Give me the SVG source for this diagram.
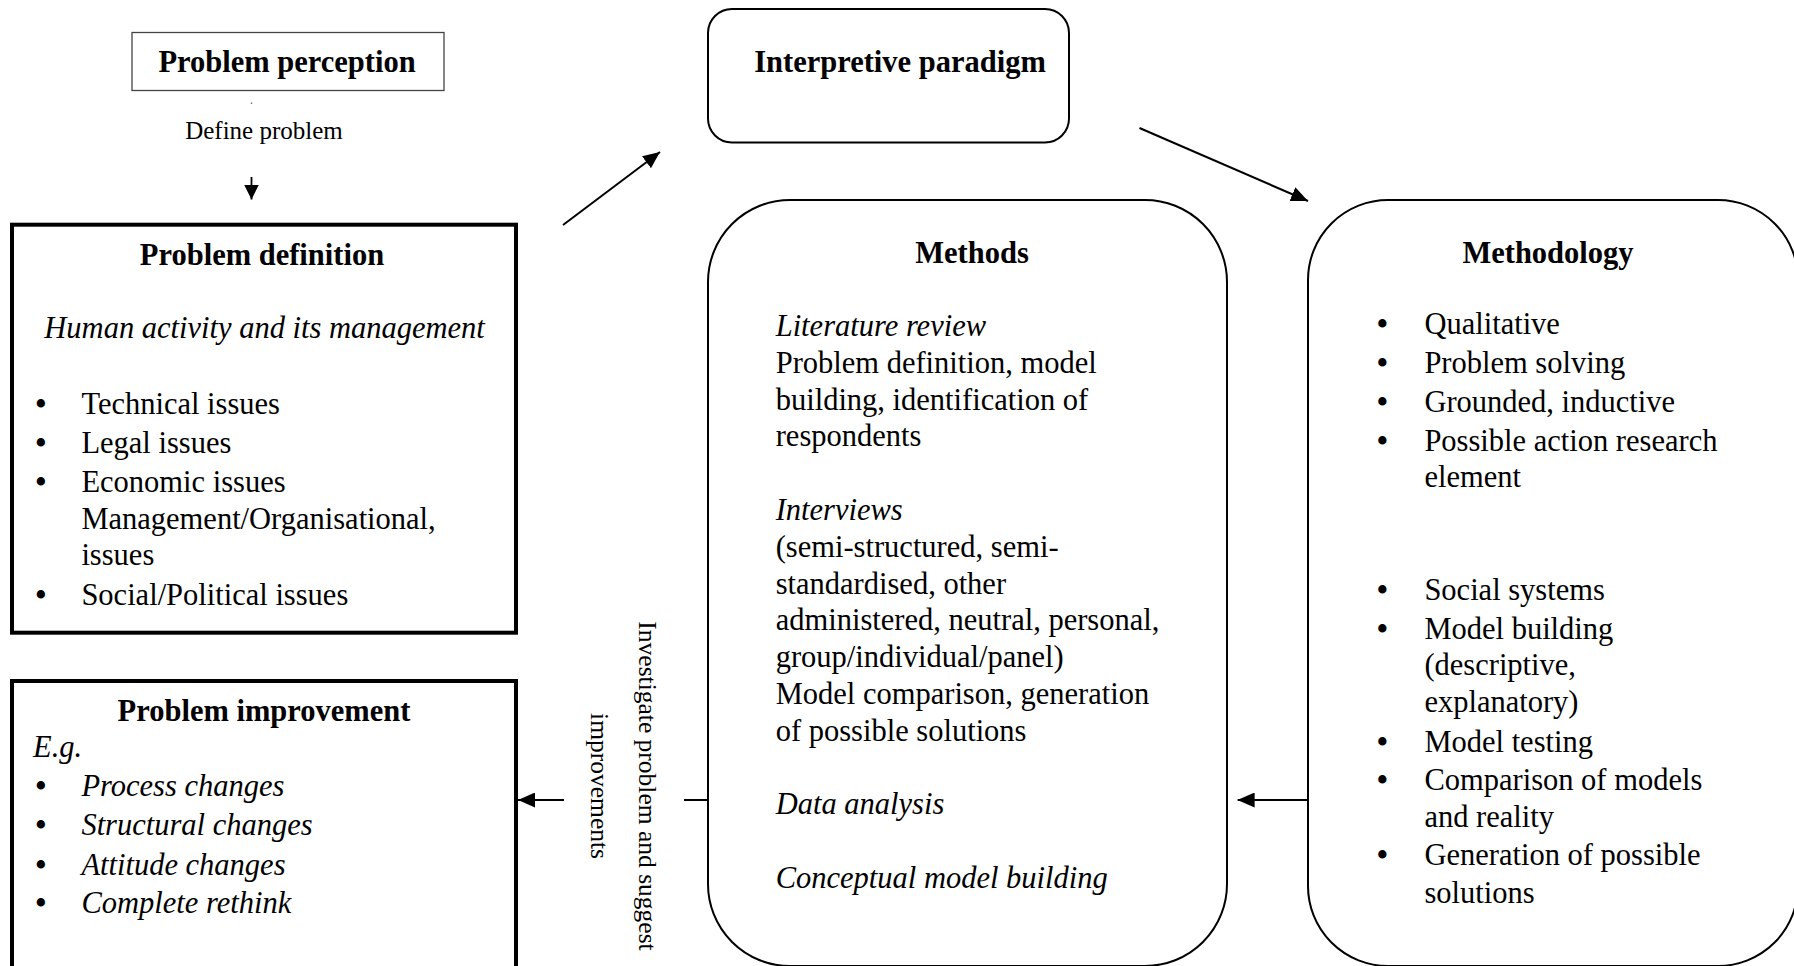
<svg xmlns="http://www.w3.org/2000/svg" width="1794" height="966" viewBox="0 0 1794 966">
<style>
text{font-family:"Liberation Serif","Times New Roman",serif;fill:#000}
.t{font-size:30.5px;font-weight:bold;text-anchor:middle}
.b{font-size:30.5px}
.i{font-size:30.5px;font-style:italic}
.bu{font-style:normal;font-weight:bold}
.thick{fill:#fff;stroke:#000;stroke-width:4}
.round{fill:#fff;stroke:#000;stroke-width:2}
.conn{stroke:#000;stroke-width:2;fill:none}
</style>
<defs>
<marker id="ah" markerUnits="userSpaceOnUse" markerWidth="17" markerHeight="15" refX="17" refY="7.5" orient="auto">
<path d="M0,0 L17,7.5 L0,15 Z" fill="#000"/>
</marker>
<marker id="ahs" markerUnits="userSpaceOnUse" markerWidth="15" markerHeight="15" refX="15" refY="7.5" orient="auto">
<path d="M0,0 L15,7.5 L0,15 Z" fill="#000"/>
</marker>
</defs>
<rect width="1794" height="966" fill="#fff"/>

<g id="problem-perception">
<rect x="132" y="32.5" width="312" height="58" fill="#fff" stroke="#444" stroke-width="1.3"/>
<text class="t" x="287" y="71.5">Problem perception</text>
</g>

<g id="interpretive-paradigm">
<rect x="708" y="9" width="361" height="133.5" rx="24" class="round"/>
<text class="t" x="900" y="71.5">Interpretive paradigm</text>
</g>

<g id="problem-definition">
<rect x="12" y="224.7" width="504" height="408" class="thick"/>
<text class="t" x="262" y="265">Problem definition</text>
<text class="i" x="264.6" y="338" text-anchor="middle">Human activity and its management</text>
<text class="b" y="414"><tspan class="bu" x="35.5">•</tspan><tspan x="81.4">Technical issues</tspan></text>
<text class="b" y="453"><tspan class="bu" x="35.5">•</tspan><tspan x="81.4">Legal issues</tspan></text>
<text class="b" y="492"><tspan class="bu" x="35.5">•</tspan><tspan x="81.4">Economic issues</tspan></text>
<text class="b" x="81.4" y="529">Management/Organisational,</text>
<text class="b" x="81.4" y="565">issues</text>
<text class="b" y="605"><tspan class="bu" x="35.5">•</tspan><tspan x="81.4">Social/Political issues</tspan></text>
</g>

<g id="problem-improvement">
<rect x="12" y="681" width="504" height="320" class="thick"/>
<text class="t" x="264" y="721">Problem improvement</text>
<text class="i" x="33" y="757">E.g.</text>
<text class="i" y="796"><tspan class="bu" x="35.5">•</tspan><tspan x="81.4">Process changes</tspan></text>
<text class="i" y="835"><tspan class="bu" x="35.5">•</tspan><tspan x="81.4">Structural changes</tspan></text>
<text class="i" y="874.5"><tspan class="bu" x="35.5">•</tspan><tspan x="81.4">Attitude changes</tspan></text>
<text class="i" y="913"><tspan class="bu" x="35.5">•</tspan><tspan x="81.4">Complete rethink</tspan></text>
</g>

<g id="methods">
<rect x="708" y="200" width="519" height="766" rx="82" class="round"/>
<text class="t" x="972" y="263">Methods</text>
<text class="i" x="775.7" y="336">Literature review</text>
<text class="b" x="775.7" y="373">Problem definition, model</text>
<text class="b" x="775.7" y="409.6">building, identification of</text>
<text class="b" x="775.7" y="446">respondents</text>
<text class="i" x="775.7" y="520">Interviews</text>
<text class="b" x="775.7" y="557">(semi-structured, semi-</text>
<text class="b" x="775.7" y="593.6">standardised, other</text>
<text class="b" x="775.7" y="630.4">administered, neutral, personal,</text>
<text class="b" x="775.7" y="667">group/individual/panel)</text>
<text class="b" x="775.7" y="704">Model comparison, generation</text>
<text class="b" x="775.7" y="740.8">of possible solutions</text>
<text class="i" x="775.7" y="814.4">Data analysis</text>
<text class="i" x="775.7" y="888">Conceptual model building</text>
</g>

<g id="methodology">
<rect x="1308" y="200" width="490" height="766" rx="80" class="round"/>
<text class="t" x="1548" y="263">Methodology</text>
<text class="b" y="334"><tspan class="bu" x="1377">•</tspan><tspan x="1424.4">Qualitative</tspan></text>
<text class="b" y="372.7"><tspan class="bu" x="1377">•</tspan><tspan x="1424.4">Problem solving</tspan></text>
<text class="b" y="411.7"><tspan class="bu" x="1377">•</tspan><tspan x="1424.4">Grounded, inductive</tspan></text>
<text class="b" y="450.7"><tspan class="bu" x="1377">•</tspan><tspan x="1424.4">Possible action research</tspan></text>
<text class="b" x="1424.4" y="486.7">element</text>
<text class="b" y="600"><tspan class="bu" x="1377">•</tspan><tspan x="1424.4">Social systems</tspan></text>
<text class="b" y="639"><tspan class="bu" x="1377">•</tspan><tspan x="1424.4">Model building</tspan></text>
<text class="b" x="1424.4" y="675">(descriptive,</text>
<text class="b" x="1424.4" y="711.7">explanatory)</text>
<text class="b" y="751.7"><tspan class="bu" x="1377">•</tspan><tspan x="1424.4">Model testing</tspan></text>
<text class="b" y="790"><tspan class="bu" x="1377">•</tspan><tspan x="1424.4">Comparison of models</tspan></text>
<text class="b" x="1424.4" y="826.7">and reality</text>
<text class="b" y="865"><tspan class="bu" x="1377">•</tspan><tspan x="1424.4">Generation of possible</tspan></text>
<text class="b" x="1424.4" y="902.7">solutions</text>
</g>

<g id="connectors">
<rect x="250.8" y="102.5" width="1.4" height="1.4" fill="#666"/>
<text x="264" y="139" font-size="25" text-anchor="middle">Define problem</text>
<line x1="251.5" y1="177" x2="251.5" y2="199.5" stroke="#000" stroke-width="1.8" marker-end="url(#ahs)"/>
<line x1="563" y1="225" x2="660" y2="152" class="conn" marker-end="url(#ah)"/>
<line x1="1139.5" y1="128" x2="1308" y2="201" class="conn" marker-end="url(#ah)"/>
<line x1="1308" y1="800" x2="1237.6" y2="800" class="conn" marker-end="url(#ah)"/>
<line x1="708" y1="800" x2="684" y2="800" class="conn"/>
<line x1="564" y1="800" x2="518" y2="800" class="conn" marker-end="url(#ah)"/>
<text transform="translate(639,786) rotate(90)" font-size="25.5" text-anchor="middle">Investigate problem and suggest</text>
<text transform="translate(591,786) rotate(90)" font-size="25.5" text-anchor="middle">improvements</text>
</g>
</svg>
